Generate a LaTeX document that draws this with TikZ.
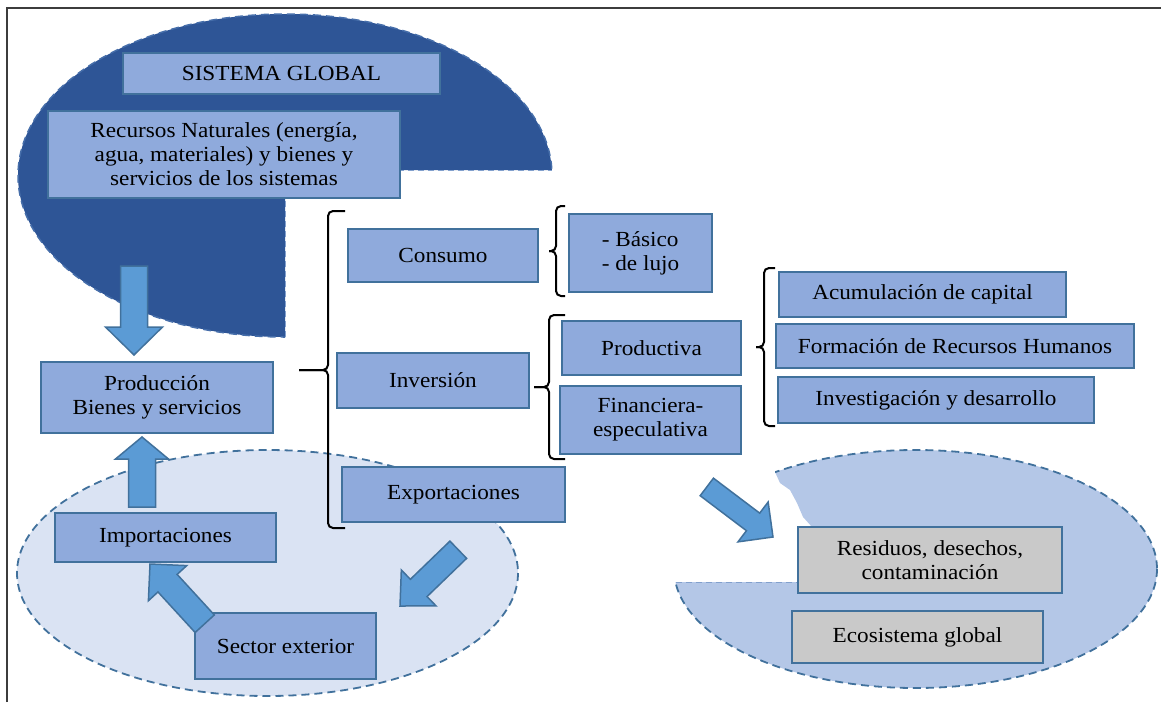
\documentclass[tikz,border=0pt]{standalone}
\usepackage{fontspec}
\setmainfont{Liberation Serif}[FakeStretch=1.08]
\definecolor{darkb}{RGB}{46,85,150}
\definecolor{bord}{RGB}{65,113,156}
\definecolor{boxf}{RGB}{143,170,220}
\definecolor{arrf}{RGB}{91,155,213}
\definecolor{ellA}{RGB}{218,227,243}
\definecolor{ellB}{RGB}{180,199,231}
\definecolor{grayf}{RGB}{201,201,201}
\definecolor{framec}{RGB}{60,60,60}
\definecolor{dashdark}{RGB}{70,110,170}
\definecolor{dashlight}{RGB}{130,160,205}
\tikzset{
  box/.style={draw=bord, fill=boxf, line width=1.5pt, inner sep=0pt, align=center,
    font=\fontsize{21.5}{24}\selectfont},
  gbox/.style={box, fill=grayf},
  brk/.style={draw=black, line width=2pt},
  dsh/.style={draw=bord, line width=1.8pt, dash pattern=on 8pt off 5pt},
  arrsty/.style={draw=bord, fill=arrf, line width=1.5pt, line join=miter},
}
% #1 end x, #2 stem x, #3 top y, #4 mid y, #5 bottom y, #6 tip x
\newcommand\mybrk[6]{%
  \draw[brk] (#1,#3) -- ({#2+5},#3) to[out=180,in=90] (#2,{#3+5}) -- (#2,{#4-5})
     to[out=-90,in=0] ({#2-5},#4) -- (#6,#4);
  \draw[brk] (#6,#4) -- ({#2-5},#4) to[out=0,in=90] (#2,{#4+5}) -- (#2,{#5-5})
     to[out=-90,in=180] ({#2+5},#5) -- (#1,#5);}
% #1 tip coordinate, #2 angle (tip->tail), #3 length, #4 shaft hw, #5 head hw, #6 head length
\newcommand\blockarr[6]{%
  \begin{scope}[shift={(#1)}, rotate=#2]
    \filldraw[arrsty] (0,0) -- (#6,#5) -- (#6,#4) -- (#3,#4) -- (#3,-#4) -- (#6,-#4) -- (#6,-#5) -- cycle;
  \end{scope}}
\begin{document}
\begin{tikzpicture}[x=1pt,y=-1pt]
\useasboundingbox (0,0) rectangle (1161,702);
% frame
\draw[framec, line width=1.5pt] (7,702) -- (7,8) -- (1161,8);
% dark ellipse with lower-right quarter removed
\begin{scope}
  \clip (0,0) rectangle (1161,170) (0,170) rectangle (285,702);
  \fill[darkb] (285,175.5) ellipse [x radius=267, y radius=161.5];
  \draw[dashdark, line width=1.5pt, dash pattern=on 8pt off 5pt]
    (285,175.5) ellipse [x radius=267, y radius=161.5];
\end{scope}
\draw[dashlight, line width=1pt, dash pattern=on 6pt off 4pt]
  (285,337) -- (285,170) -- (552,170);
% lower-left ellipse (sector exterior)
\filldraw[fill=ellA, dsh] (267.5,573) ellipse [x radius=250.5, y radius=123];
% right ellipse (ecosistema), top-left torn away
\begin{scope}[even odd rule]
  \clip (600,360) rectangle (1161,702)
    (640,380) -- (775,380) -- (775,472) -- (780,483) -- (790,490) -- (797,503) -- (803,517)
    -- (812,527) -- (812,582) -- (640,582) -- cycle;
  \filldraw[fill=ellB, dsh] (915.5,569) ellipse [x radius=241.5, y radius=119];
\end{scope}
\draw[dashlight, line width=1pt, dash pattern=on 6pt off 4pt]
  (676,582) -- (800,582);
% brackets
\mybrk{345}{328}{211}{370}{528}{299}
\mybrk{565}{556}{206}{251}{296}{549}
\mybrk{565}{549}{315}{387}{459}{534}
\mybrk{775}{764}{268}{347}{426}{756}
% boxes
\node[box, minimum width=317pt, minimum height=41pt] (sg) at (281.5,73.5) {SISTEMA GLOBAL};
\node[box, minimum width=352pt, minimum height=87pt] (rec) at (224,154.5)
  {Recursos Naturales (energía,\\agua, materiales) y bienes y\\servicios de los sistemas};
\node[box, minimum width=190pt, minimum height=53pt] (cons) at (443,255.5) {Consumo};
\node[box, minimum width=143pt, minimum height=78pt, align=left] (bas) at (640.5,253) {- Básico\\- de lujo};
\node[box, minimum width=192pt, minimum height=55pt] (inver) at (433,380.5) {Inversión};
\node[box, minimum width=179pt, minimum height=54pt] (prod) at (651.5,348) {Productiva};
\node[box, minimum width=181pt, minimum height=68pt] (fin) at (650.5,420) {Financiera-\\especulativa};
\node[box, minimum width=287pt, minimum height=45pt] (acu) at (922.5,294.5) {Acumulación de capital};
\node[box, minimum width=358pt, minimum height=44pt] (form) at (955,346) {Formación de Recursos Humanos};
\node[box, minimum width=316pt, minimum height=46pt] (idi) at (936,400) {Investigación y desarrollo};
\node[box, minimum width=223pt, minimum height=55pt] (exp) at (453.5,494.5) {Exportaciones};
\node[box, minimum width=232pt, minimum height=71pt] (produ) at (157,397.5) {Producción\\Bienes y servicios};
\node[box, minimum width=221pt, minimum height=49pt] (imp) at (165.5,537.5) {Importaciones};
\node[box, minimum width=181pt, minimum height=66pt] (sec) at (285.5,646) {Sector exterior};
\node[gbox, minimum width=264pt, minimum height=66pt] (res) at (930,560) {Residuos, desechos,\\contaminación};
\node[gbox, minimum width=251pt, minimum height=52pt] (eco) at (917.5,637) {Ecosistema global};
% block arrows
\coordinate (tipA) at (134,355);
\coordinate (tipB) at (142,437);
\coordinate (tipC) at (150,564);
\coordinate (tipD) at (400,606);
\coordinate (tipE) at (773,537);
\blockarr{tipA}{90}{89}{13.5}{28.5}{28}
\blockarr{tipB}{-90}{70}{13.5}{26.5}{22}
\blockarr{tipC}{-47.5}{81}{13}{26}{26}
\blockarr{tipD}{44}{81}{12}{25}{26}
\blockarr{tipE}{142.9}{83}{11}{25}{25}
\end{tikzpicture}
\end{document}
